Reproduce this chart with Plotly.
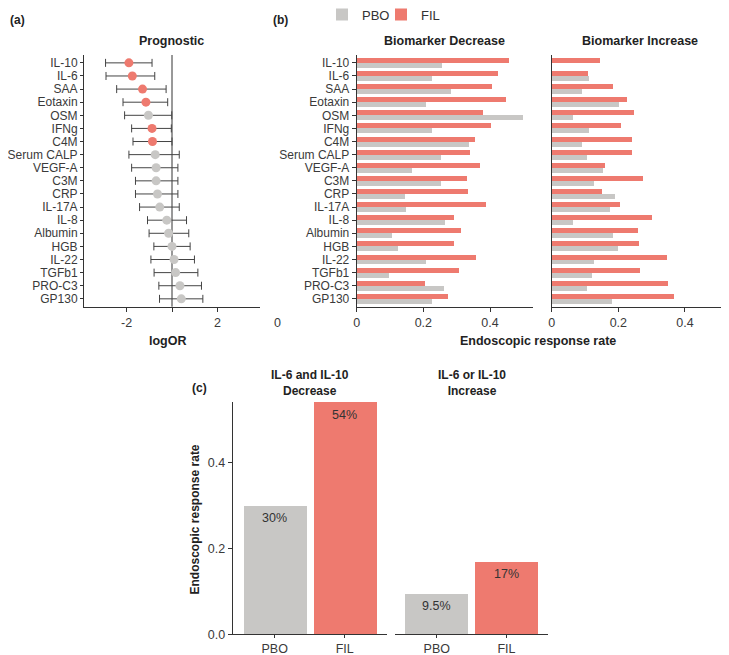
import plotly.graph_objects as go

# ---------------- data ----------------
biomarkers = ["IL-10", "IL-6", "SAA", "Eotaxin", "OSM", "IFNg", "C4M", "Serum CALP",
              "VEGF-A", "C3M", "CRP", "IL-17A", "IL-8", "Albumin", "HGB", "IL-22",
              "TGFb1", "PRO-C3", "GP130"]

log_or = [-1.90, -1.75, -1.30, -1.15, -1.04, -0.88, -0.86, -0.74, -0.70, -0.70,
          -0.64, -0.54, -0.23, -0.15, 0.00, 0.09, 0.16, 0.35, 0.41]
ci_low = [-2.93, -2.91, -2.44, -2.16, -2.09, -1.78, -1.72, -1.90, -1.78, -1.61,
          -1.61, -1.43, -1.08, -1.01, -0.80, -0.93, -0.79, -0.58, -0.55]
ci_high = [-0.88, -0.76, -0.26, -0.19, -0.01, -0.03, 0.00, 0.32, 0.26, 0.26,
           0.26, 0.32, 0.64, 0.74, 0.80, 0.99, 1.14, 1.30, 1.36]
significant = [True, True, True, True, False, True, True, False, False, False,
               False, False, False, False, False, False, False, False, False]

dec_fil = [0.455, 0.423, 0.405, 0.447, 0.379, 0.402, 0.355, 0.338, 0.368, 0.330,
           0.332, 0.387, 0.292, 0.312, 0.290, 0.357, 0.307, 0.203, 0.273]
dec_pbo = [0.256, 0.225, 0.282, 0.206, 0.497, 0.225, 0.337, 0.251, 0.165, 0.251,
           0.145, 0.147, 0.264, 0.106, 0.123, 0.207, 0.097, 0.260, 0.226]
inc_fil = [0.145, 0.108, 0.184, 0.225, 0.247, 0.208, 0.241, 0.240, 0.158, 0.272,
           0.149, 0.205, 0.300, 0.259, 0.261, 0.345, 0.264, 0.348, 0.365]
inc_pbo = [0.000, 0.111, 0.091, 0.201, 0.063, 0.111, 0.091, 0.105, 0.152, 0.127,
           0.189, 0.175, 0.064, 0.183, 0.197, 0.127, 0.121, 0.105, 0.181]

groups = ["PBO", "FIL"]
both_decrease = [0.30, 0.54]
both_decrease_labels = ["30%", "54%"]
either_increase = [0.095, 0.17]
either_increase_labels = ["9.5%", "17%"]

# ---------------- style ----------------
RED = "#EE7A6F"
GRAY = "#C8C7C5"
AXIS = "#333333"
TICK = "#3a3a3a"
FONT = "Liberation Sans, Arial, sans-serif"
PAGE_OFF = 8          # default body margin of the html page
W, H = 729 - PAGE_OFF, 655 - PAGE_OFF


def px(x):
    return (x - PAGE_OFF) / W


def py(y):
    return 1 - (y - PAGE_OFF) / H


fig = go.Figure()

# ---- panel (a): forest plot ----
fig.add_trace(go.Scatter(
    x=log_or, y=biomarkers, mode="markers",
    marker=dict(size=9, color=[RED if s else GRAY for s in significant]),
    error_x=dict(type="data", symmetric=False,
                 array=[h - v for h, v in zip(ci_high, log_or)],
                 arrayminus=[v - l for v, l in zip(log_or, ci_low)],
                 color="#444444", thickness=1, width=4),
    xaxis="x", yaxis="y", showlegend=False, hoverinfo="skip"))

# ---- panel (b): biomarker decrease / increase ----
bw = 0.38
fig.add_trace(go.Bar(x=dec_pbo, y=biomarkers, orientation="h", name="PBO",
                     marker=dict(color=GRAY, line=dict(width=0)), width=bw, offset=0,
                     xaxis="x2", yaxis="y2", legend="legend"))
fig.add_trace(go.Bar(x=dec_fil, y=biomarkers, orientation="h", name="FIL",
                     marker=dict(color=RED, line=dict(width=0)), width=bw, offset=-bw,
                     xaxis="x2", yaxis="y2", legend="legend2"))
fig.add_trace(go.Bar(x=inc_pbo, y=biomarkers, orientation="h", name="PBO",
                     marker=dict(color=GRAY, line=dict(width=0)), width=bw, offset=0,
                     xaxis="x3", yaxis="y3", showlegend=False))
fig.add_trace(go.Bar(x=inc_fil, y=biomarkers, orientation="h", name="FIL",
                     marker=dict(color=RED, line=dict(width=0)), width=bw, offset=-bw,
                     xaxis="x3", yaxis="y3", showlegend=False))

# ---- panel (c) ----
fig.add_trace(go.Bar(x=groups, y=both_decrease, width=0.9,
                     marker=dict(color=[GRAY, RED], line=dict(width=0)),
                     xaxis="x4", yaxis="y4", showlegend=False, cliponaxis=False))
fig.add_trace(go.Bar(x=groups, y=either_increase, width=0.9,
                     marker=dict(color=[GRAY, RED], line=dict(width=0)),
                     xaxis="x5", yaxis="y5", showlegend=False, cliponaxis=False))

# ---------------- axes ----------------
row_range = [18.6, -0.6]
ydom_ab = [py(306.7), py(55)]
ydom_c = [py(634.3), py(401.7)]

common_axis = dict(showline=True, linecolor=AXIS, linewidth=1, ticks="outside",
                   ticklen=4, tickcolor=AXIS, tickwidth=1, showgrid=False, zeroline=False,
                   tickfont=dict(family=FONT, size=12.5, color=TICK), fixedrange=True,
                   automargin=False)

cat_y = dict(common_axis, type="category", categoryorder="array",
             categoryarray=biomarkers, range=row_range,
             tickmode="array", tickvals=biomarkers, ticktext=biomarkers,
             tickfont=dict(family=FONT, size=12, color=TICK))

fig.update_layout(
    xaxis=dict(common_axis, domain=[px(84), px(260)], range=[-3.88, 3.88],
               tickvals=[-2, 0, 2], ticktext=["-2", "", "2"], anchor="y"),
    yaxis=dict(cat_y, domain=ydom_ab, anchor="x", ticklen=3),
    xaxis2=dict(common_axis, domain=[px(356.7), px(533)], range=[0, 0.529],
                tickvals=[0, 0.2, 0.4], ticktext=["0", "0.2", "0.4"], anchor="y2"),
    yaxis2=dict(cat_y, domain=ydom_ab, anchor="x2"),
    xaxis3=dict(common_axis, domain=[px(551.7), px(728.3)], range=[0, 0.53],
                tickvals=[0, 0.2, 0.4], ticktext=["0", "0.2", "0.4"], anchor="y3"),
    yaxis3=dict(cat_y, domain=ydom_ab, anchor="x3", showticklabels=False, ticks=""),
    xaxis4=dict(common_axis, domain=[px(232.7), px(386.7)], range=[-0.6, 1.6],
                type="category", anchor="y4", ticklen=3),
    yaxis4=dict(common_axis, domain=ydom_c, range=[0, 0.541], anchor="x4",
                tickvals=[0, 0.2, 0.4], tickformat=".1f"),
    xaxis5=dict(common_axis, domain=[px(395), px(548.3)], range=[-0.6, 1.6],
                type="category", anchor="y5", ticklen=3),
    yaxis5=dict(common_axis, domain=ydom_c, range=[0, 0.541], anchor="x5",
                showline=False, showticklabels=False, ticks=""),
)

# zero reference line in forest plot
fig.add_shape(type="line", xref="x", yref="y domain", x0=0, x1=0, y0=0, y1=1,
              line=dict(color=AXIS, width=1), layer="below")

# ---------------- texts ----------------
ann = []


def txt(x, y, s, size=12.5, bold=False, color="#222222", xanchor="center",
        yanchor="middle", **kw):
    ann.append(dict(x=px(x), y=py(y), xref="paper", yref="paper",
                    text=f"<b>{s}</b>" if bold else s, showarrow=False,
                    xanchor=xanchor, yanchor=yanchor,
                    font=dict(family=FONT, size=size, color=color), **kw))


txt(8, 20, "(a)", size=12, bold=True, xanchor="left")
txt(271, 20, "(b)", size=12, bold=True, xanchor="left")
txt(190, 388, "(c)", size=12, bold=True, xanchor="left")
txt(171, 41.5, "Prognostic", size=12.5, bold=True)
txt(445, 41.5, "Biomarker Decrease", size=12.5, bold=True)
txt(640, 41.5, "Biomarker Increase", size=12.5, bold=True)
txt(168, 340.5, "logOR", size=12.5, bold=True)
txt(538, 340.5, "Endoscopic response rate", size=12.5, bold=True)
txt(277, 323, "0", size=12.5, color=TICK)
txt(309.7, 383, "IL-6 and IL-10<br>Decrease", size=12, bold=True)
txt(471.7, 383, "IL-6 or IL-10<br>Increase", size=12, bold=True)
txt(195, 519.5, "Endoscopic response rate", size=12, bold=True, textangle=-90)

for xa, ya, vals, labels in (("x4", "y4", both_decrease, both_decrease_labels),
                             ("x5", "y5", either_increase, either_increase_labels)):
    for g, v, lab in zip(groups, vals, labels):
        ann.append(dict(x=g, y=v, xref=xa, yref=ya, text=lab, showarrow=False,
                        yshift=-13, font=dict(family=FONT, size=12.5, color="#333333")))

leg_common = dict(orientation="h", yref="container", xref="container",
                  yanchor="middle", y=py(14.5), xanchor="left",
                  font=dict(family=FONT, size=13, color="#333333"),
                  bgcolor="rgba(0,0,0,0)", itemwidth=30)

fig.update_layout(
    annotations=ann,
    width=W, height=H, margin=dict(l=0, r=0, t=0, b=0, autoexpand=False),
    paper_bgcolor="white", plot_bgcolor="white",
    barmode="overlay", bargap=0,
    font=dict(family=FONT, size=12.5, color="#222222"),
    showlegend=True,
    legend=dict(leg_common, x=px(322)),
    legend2=dict(leg_common, x=px(381)),
)

fig.write_html("out.html")
